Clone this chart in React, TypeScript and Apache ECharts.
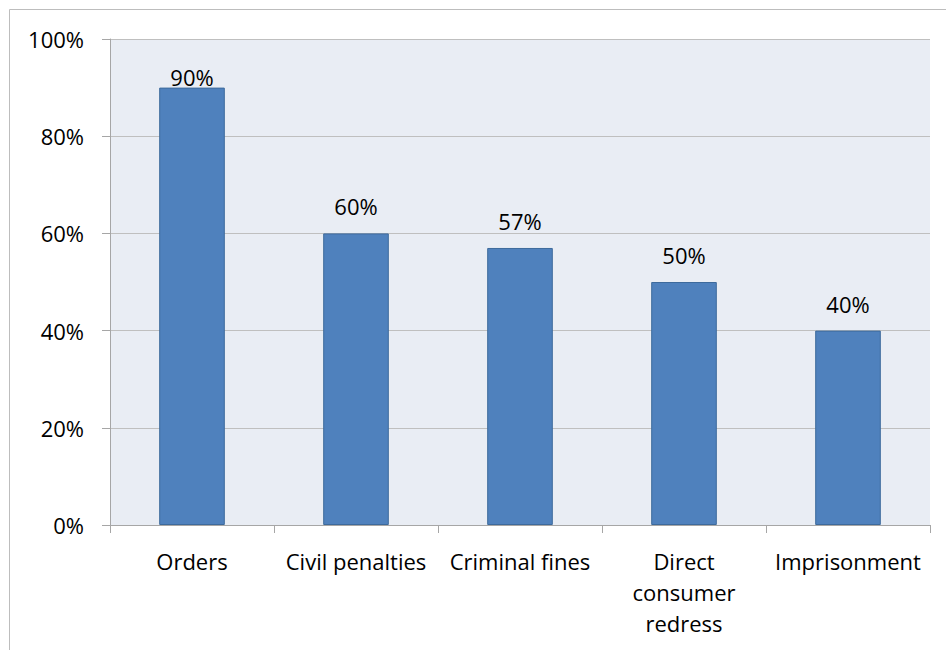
import React, { useEffect, useRef } from "react";
import * as echarts from "echarts";

const categories = ["Orders", "Civil penalties", "Criminal fines", "Direct\nconsumer\nredress", "Imprisonment"];
const values = [90, 60, 57, 50, 40];
const yTicks = [0, 20, 40, 60, 80, 100];

const FONT = "'Open Sans', sans-serif";

export default function App() {
  const ref = useRef<HTMLDivElement>(null);
  useEffect(() => {
    if (!ref.current) return;
    const chart = echarts.init(ref.current, undefined, { renderer: "svg" });
    const yMax = yTicks[yTicks.length - 1];
    chart.setOption({
      animation: false,
      backgroundColor: "#ffffff",
      graphic: [
        {
          type: "rect",
          shape: { x: 9.5, y: 9.5, width: 1000, height: 1000 },
          style: { fill: "none", stroke: "#BDBDBD", lineWidth: 1 },
          silent: true,
        },
      ],
      grid: {
        left: 110,
        top: 39,
        right: 16,
        bottom: 125,
        show: true,
        backgroundColor: "#E9EDF4",
        borderWidth: 0,
      },
      xAxis: {
        type: "category",
        data: categories,
        axisLine: { show: true, lineStyle: { color: "#A6A6A6", width: 1 } },
        axisTick: { show: true, length: 8, lineStyle: { color: "#A6A6A6" } },
        axisLabel: {
          color: "#000000",
          fontFamily: FONT,
          fontSize: 22,
          lineHeight: 31,
          margin: 20,
          interval: 0,
        },
      },
      yAxis: {
        type: "value",
        min: yTicks[0],
        max: yMax,
        interval: 20,
        axisLine: { show: true, lineStyle: { color: "#A6A6A6", width: 1 } },
        axisTick: { show: true, length: 8, lineStyle: { color: "#A6A6A6" } },
        splitLine: { show: true, lineStyle: { color: "#BFBFBF", width: 1 } },
        axisLabel: {
          color: "#000000",
          fontFamily: FONT,
          fontSize: 22,
          margin: 26,
          formatter: (v: number) => `${v}%`,
        },
      },
      series: [
        {
          type: "bar",
          data: values.map((v) => ({
            value: v,
            label: { distance: v > yMax - 15 ? 0 : 16 },
          })),
          barWidth: "40%",
          itemStyle: { color: "#4F81BD", borderColor: "#3D6A9C", borderWidth: 1 },
          label: {
            show: true,
            position: "top",
            color: "#000000",
            fontFamily: FONT,
            fontSize: 22,
            formatter: (p: any) => `${p.value}%`,
          },
        },
      ],
    });
    return () => chart.dispose();
  }, []);
  return (
    <div
      ref={ref}
      style={{ position: "fixed", left: 0, top: 0, width: 946, height: 650 }}
    />
  );
}
